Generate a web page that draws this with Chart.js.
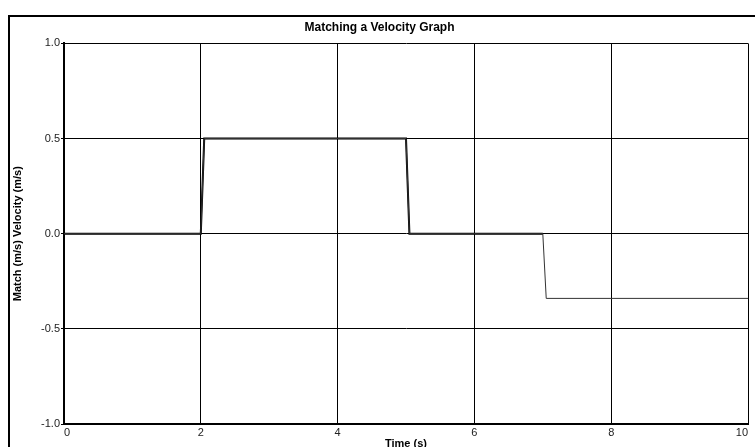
<!DOCTYPE html>
<html>
<head>
<meta charset="utf-8">
<script src="https://cdn.jsdelivr.net/npm/chart.js@4"></script>
<style>
  html, body { margin: 0; padding: 0; background: #fff; }
  #wrap { width: 755px; height: 447px; position: relative; }
</style>
</head>
<body>
<div id="wrap"><canvas id="chart" width="755" height="447"></canvas></div>
<script>
// data
const matchTime = [0, 2.0, 2.05, 5.0, 5.05, 7.0, 7.05, 10];
const matchVel = [0, 0, 0.5, 0.5, 0, 0, -0.34, -0.34];
const velTime = [0, 2.0, 2.05, 5.0, 5.05, 7.0];
const velVel = [0, 0, 0.5, 0.5, 0, 0];
const xTicks = [0, 2, 4, 6, 8, 10];
const yTicks = [-1.0, -0.5, 0.0, 0.5, 1.0];

function toPoints(xs, ys) {
    return xs.map((x, i) => ({ x: x, y: ys[i] }));
}

// outer frame like the original window
const framePlugin = {
    id: 'frame',
    beforeDraw(chart) {
        const c = chart.ctx;
        c.save();
        c.fillStyle = '#fff';
        c.fillRect(0, 0, chart.width, chart.height);
        c.fillStyle = '#000';
        c.fillRect(8, 15, 2, chart.height);
        c.fillRect(8, 15, chart.width, 2);
        c.restore();
    }
};

const ctx = document.getElementById('chart').getContext('2d');
new Chart(ctx, {
    type: 'line',
    data: {
        datasets: [{
            label: 'Match',
            data: toPoints(matchTime, matchVel),
            borderColor: '#333',
            borderWidth: 1,
            pointRadius: 0,
            tension: 0
        }, {
            label: 'Velocity',
            data: toPoints(velTime, velVel),
            borderColor: '#000',
            borderWidth: 2,
            pointRadius: 0,
            tension: 0
        }]
    },
    options: {
        responsive: false,
        animation: false,
        layout: { padding: { left: 11, right: 7, top: 0, bottom: 0 } },
        plugins: {
            legend: { display: false },
            tooltip: { enabled: false },
            title: {
                display: true,
                text: 'Matching a Velocity Graph',
                color: '#000',
                font: { family: 'Liberation Sans, Arial', size: 12, weight: 'bold' },
                padding: { top: 20, bottom: 9 }
            }
        },
        scales: {
            x: {
                type: 'linear',
                min: 0,
                max: 10,
                afterBuildTicks(scale) { scale.ticks = xTicks.map(v => ({ value: v })); },
                afterFit(scale) { scale.height = 23; },
                ticks: {
                    color: '#222',
                    font: { family: 'Liberation Sans, Arial', size: 11 },
                    padding: 2,
                    align: 'inner',
                    maxRotation: 0,
                    autoSkip: false
                },
                grid: { color: '#000', lineWidth: 1, drawTicks: false, tickLength: 0 },
                border: { color: '#000', width: 2 },
                title: {
                    display: true,
                    text: 'Time (s)',
                    color: '#000',
                    font: { family: 'Liberation Sans, Arial', size: 11, weight: 'bold' },
                    padding: { top: 0, bottom: -4 }
                }
            },
            y: {
                min: -1,
                max: 1,
                afterBuildTicks(scale) { scale.ticks = yTicks.map(v => ({ value: v })); },
                afterFit(scale) { scale.width = 53; },
                ticks: {
                    color: '#222',
                    font: { family: 'Liberation Sans, Arial', size: 11 },
                    padding: 1,
                    callback: v => v.toFixed(1)
                },
                grid: { color: '#000', lineWidth: 1, tickLength: 3 },
                border: { color: '#000', width: 2 },
                title: {
                    display: true,
                    text: 'Match (m/s) Velocity (m/s)',
                    color: '#000',
                    font: { family: 'Liberation Sans, Arial', size: 11, weight: 'bold' },
                    padding: 0
                }
            }
        }
    },
    plugins: [framePlugin]
});
</script>
</body>
</html>
